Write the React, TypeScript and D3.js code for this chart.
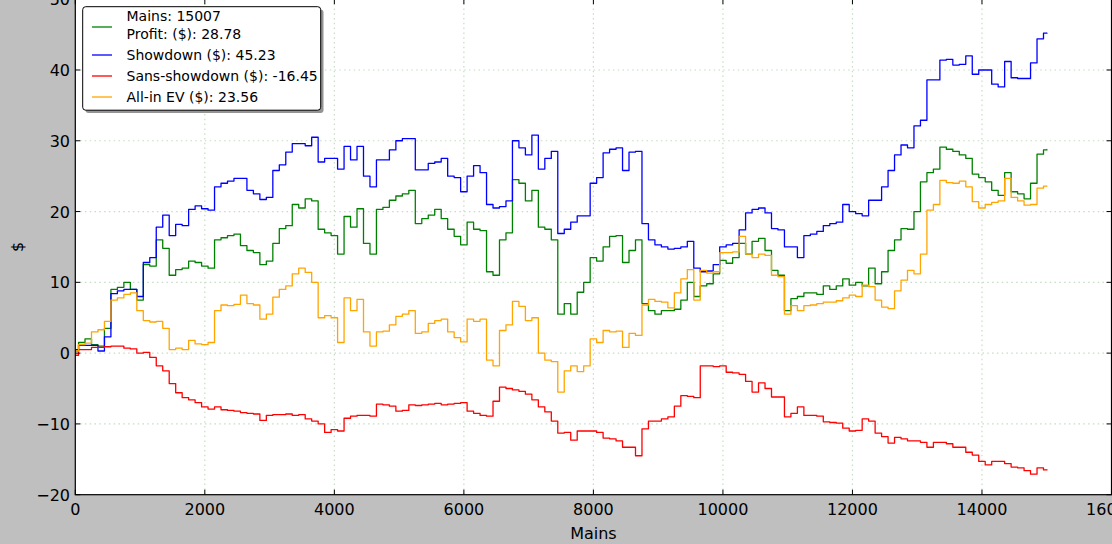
import * as d3 from 'd3'
import { useEffect, useRef } from 'react'

// hand count of the session, the last sample sits here
const TOTAL_HANDS = 15007

// values sampled every 100 hands (0 .. 15000), then the final value at 15007
const profit = [
  0.3, 1.5, 2.0, 1.2, 1.0, 3.5, 9.0, 9.3, 10.0, 9.0, 7.5, 12.5, 12.3, 16.0, 14.8, 11.0, 11.8, 12.0, 13.0, 12.8,
  12.3, 12.0, 16.0, 16.3, 16.6, 16.8, 15.2, 14.5, 14.2, 12.5, 13.0, 15.5, 17.6, 18.0, 21.0, 20.5, 21.8, 21.5, 17.5, 17.0,
  16.6, 14.0, 19.3, 17.8, 20.4, 15.5, 14.0, 20.3, 20.6, 21.6, 22.2, 22.5, 23.0, 18.3, 19.0, 19.5, 20.3, 19.0, 17.5, 16.5,
  15.3, 18.5, 17.5, 17.3, 11.5, 11.0, 16.0, 17.0, 24.5, 24.0, 21.5, 23.0, 17.8, 17.5, 16.0, 5.5, 7.0, 5.5, 8.6, 10.0,
  13.5, 13.0, 15.0, 16.5, 16.6, 12.8, 14.5, 16.0, 7.0, 6.0, 5.5, 6.0, 6.0, 6.2, 7.5, 10.0, 8.0, 9.5, 9.8, 11.2,
  13.1, 12.7, 13.5, 15.5, 14.0, 15.8, 16.2, 14.5, 11.7, 11.0, 6.0, 7.7, 8.0, 8.5, 8.5, 8.3, 9.5, 9.0, 9.5, 10.5,
  9.6, 10.0, 9.5, 12.0, 9.8, 11.5, 14.5, 16.0, 17.6, 17.5, 20.0, 24.2, 25.5, 26.0, 29.1, 28.8, 28.5, 28.0, 27.5, 25.3,
  24.8, 24.2, 23.0, 22.3, 25.5, 22.8, 22.5, 21.8, 24.0, 28.1, 28.7, 28.78,
]

const showdown = [
  0.5, 1.1, 1.1, 1.1, 0.3, 2.3, 8.4, 8.8, 9.0, 9.0, 8.0, 12.8, 13.5, 17.8, 19.5, 16.6, 18.2, 18.0, 20.3, 20.8,
  20.4, 20.2, 23.5, 24.0, 24.3, 24.7, 24.7, 23.0, 22.5, 21.7, 22.0, 25.8, 26.6, 28.4, 29.6, 29.6, 29.3, 30.5, 27.0, 27.5,
  27.5, 26.0, 29.2, 27.3, 29.2, 25.0, 23.5, 27.3, 27.3, 28.7, 30.0, 30.3, 30.3, 25.9, 25.9, 26.8, 27.0, 27.5, 25.0, 24.8,
  22.8, 25.0, 26.5, 25.5, 21.0, 20.5, 20.7, 21.5, 30.0, 29.0, 28.0, 30.8, 26.0, 27.5, 28.5, 16.9, 17.5, 18.5, 19.4, 19.4,
  24.0, 24.8, 28.3, 28.8, 29.0, 25.8, 28.4, 28.5, 18.3, 16.0, 15.3, 15.0, 14.7, 14.8, 15.0, 15.8, 12.0, 11.5, 11.6, 12.5,
  15.0, 15.3, 15.5, 17.4, 19.8, 20.3, 20.5, 19.8, 17.6, 17.4, 15.0, 15.0, 13.5, 16.6, 16.8, 17.2, 18.0, 18.3, 18.5, 21.0,
  20.0, 19.7, 19.4, 21.6, 21.6, 23.5, 25.8, 28.0, 29.4, 29.0, 32.1, 32.9, 38.6, 38.6, 41.4, 41.5, 40.7, 40.8, 42.0, 39.4,
  40.0, 40.0, 38.0, 37.6, 41.2, 38.9, 38.8, 38.8, 41.0, 44.4, 45.2, 45.23,
]

const sansShowdown = [
  -0.3, 0.5, 0.5, 0.8, 0.8, 0.9, 1.0, 1.0, 0.7, 0.6, 0.0, 0.1, -0.6, -1.8, -2.5, -4.3, -5.6, -6.3, -6.6, -7.0,
  -7.6, -7.9, -7.6, -8.0, -8.1, -8.2, -8.4, -8.5, -8.6, -9.5, -8.8, -8.7, -8.7, -8.6, -8.8, -8.7, -9.3, -9.6, -10.0, -11.2,
  -10.8, -11.0, -9.2, -8.9, -8.8, -8.8, -8.9, -7.2, -7.3, -7.5, -8.2, -8.1, -7.3, -7.4, -7.3, -7.2, -7.1, -7.3, -7.2, -7.1,
  -7.0, -8.2, -8.5, -8.8, -8.9, -6.8, -4.8, -5.0, -5.2, -5.4, -5.8, -6.6, -7.6, -8.3, -9.6, -11.3, -11.2, -12.3, -11.0, -11.0,
  -11.0, -11.2, -12.0, -12.1, -12.4, -13.3, -13.3, -14.5, -10.7, -9.6, -9.6, -9.3, -9.0, -7.5, -6.0, -6.1, -6.3, -1.8, -1.8, -1.9,
  -1.8, -2.7, -2.8, -3.0, -4.0, -5.5, -4.2, -5.0, -6.2, -6.2, -9.0, -8.5, -7.6, -8.8, -8.8, -8.9, -9.7, -9.8, -9.9, -10.6,
  -11.0, -10.9, -9.3, -9.6, -11.3, -11.8, -12.7, -11.9, -12.1, -12.4, -12.4, -12.6, -13.3, -12.6, -12.6, -12.8, -13.3, -13.3, -14.0, -14.4,
  -15.3, -15.8, -15.3, -15.3, -15.6, -16.1, -16.2, -16.6, -17.1, -16.2, -16.5, -16.45,
]

const allInEv = [
  0.3, 1.2, 1.4, 3.0, 3.3, 4.5, 7.5, 7.8, 8.3, 8.5, 6.0, 4.6, 4.4, 4.5, 3.5, 0.5, 0.7, 0.5, 1.8, 1.3,
  1.2, 1.5, 6.0, 6.8, 6.7, 6.9, 8.2, 7.0, 6.8, 4.8, 5.5, 7.9, 9.0, 9.5, 11.2, 12.0, 11.4, 10.0, 5.0, 5.3,
  5.0, 1.5, 7.8, 6.0, 7.6, 3.0, 1.0, 3.0, 3.1, 4.0, 5.2, 5.5, 6.0, 2.8, 3.0, 4.2, 4.6, 4.8, 3.0, 2.2,
  1.6, 4.8, 4.5, 4.8, -1.0, -1.8, 3.2, 4.0, 7.3, 6.6, 4.6, 5.0, 0.0, -1.0, -1.2, -5.5, -2.5, -1.8, -2.6, -1.8,
  2.0, 1.5, 3.2, 3.0, 3.1, 0.8, 2.8, 2.5, 6.8, 7.6, 7.3, 7.2, 6.4, 8.5, 10.5, 11.8, 7.5, 11.7, 11.3, 11.5,
  14.2, 14.2, 14.3, 16.5, 14.0, 13.5, 14.0, 13.8, 11.0, 10.8, 5.5, 6.7, 6.0, 6.7, 6.8, 7.0, 7.2, 7.2, 7.4, 7.8,
  8.2, 8.0, 9.6, 9.4, 7.5, 6.5, 6.3, 8.8, 10.3, 11.7, 11.2, 14.0, 20.2, 21.0, 24.4, 24.1, 24.0, 24.3, 23.5, 21.4,
  20.5, 21.0, 21.3, 21.5, 24.7, 22.0, 21.5, 20.9, 21.0, 23.3, 23.6, 23.56,
]

const xTicks = [0, 2000, 4000, 6000, 8000, 10000, 12000, 14000, 16000]
const yTicks = [-20, -10, 0, 10, 20, 30, 40, 50]

const legendLabels = [
  ['Mains: 15007', 'Profit: ($): 28.78'],
  ['Showdown ($): 45.23'],
  ['Sans-showdown ($): -16.45'],
  ['All-in EV ($): 23.56'],
]

const series = [
  { key: 'profit', values: profit, color: '#008000' },
  { key: 'showdown', values: showdown, color: '#0000ff' },
  { key: 'sans', values: sansShowdown, color: '#ff0000' },
  { key: 'allin', values: allInEv, color: '#ffa500' },
]

const WIDTH = 1112
const HEIGHT = 544
const FONT = '"DejaVu Sans", sans-serif'

const handAt = (i: number, n: number) => (i === n - 1 ? TOTAL_HANDS : i * 100)

const fmt = (v: number) => (v < 0 ? '\u2212' + Math.abs(v) : String(v))

const drawChart = (node: SVGSVGElement) => {
  const svg = d3.select(node)
  svg.selectAll('*').remove()

  const x = d3.scaleLinear().domain([0, 16000]).range([75.3, 1111.5])
  const y = d3.scaleLinear().domain([-20, 50]).range([494.7, -0.8])

  const [x0, x1] = x.range()
  const [y0, y1] = y.range()

  svg.append('rect').attr('width', WIDTH).attr('height', HEIGHT).attr('fill', '#bfbfbf')
  svg.append('rect')
    .attr('x', x0).attr('y', y1)
    .attr('width', x1 - x0).attr('height', y0 - y1)
    .attr('fill', '#ffffff')

  // dotted grid
  const grid = svg.append('g')
    .attr('stroke', '#c6dcc6')
    .attr('stroke-width', 1.2)
    .attr('stroke-dasharray', '1.5,3.3')
  grid.selectAll('line.gx')
    .data(xTicks.slice(1, -1))
    .join('line')
    .attr('class', 'gx')
    .attr('x1', d => x(d)).attr('x2', d => x(d))
    .attr('y1', y0).attr('y2', y1)
  grid.selectAll('line.gy')
    .data(yTicks.slice(1, -1))
    .join('line')
    .attr('class', 'gy')
    .attr('x1', x0).attr('x2', x1)
    .attr('y1', d => y(d)).attr('y2', d => y(d))

  const line = d3.line<number>()
    .x((d, i, arr) => x(handAt(i, arr.length)))
    .y(d => y(d))
    .curve(d3.curveStep)

  svg.append('g')
    .selectAll('path')
    .data(series)
    .join('path')
    .attr('d', d => line(d.values))
    .attr('fill', 'none')
    .attr('stroke', d => d.color)
    .attr('stroke-width', 1.3)
    .attr('stroke-linejoin', 'round')

  // frame and inside ticks
  svg.append('rect')
    .attr('x', x0).attr('y', y1)
    .attr('width', x1 - x0).attr('height', y0 - y1)
    .attr('fill', 'none')
    .attr('stroke', '#000')
    .attr('stroke-width', 1.2)

  const ticks = svg.append('g').attr('stroke', '#000').attr('stroke-width', 1)
  xTicks.forEach(t => {
    ticks.append('line').attr('x1', x(t)).attr('x2', x(t)).attr('y1', y0).attr('y2', y0 - 5)
    ticks.append('line').attr('x1', x(t)).attr('x2', x(t)).attr('y1', y1).attr('y2', y1 + 5)
  })
  yTicks.forEach(t => {
    ticks.append('line').attr('x1', x0).attr('x2', x0 + 5).attr('y1', y(t)).attr('y2', y(t))
    ticks.append('line').attr('x1', x1).attr('x2', x1 - 5).attr('y1', y(t)).attr('y2', y(t))
  })

  svg.append('g')
    .selectAll('text')
    .data(xTicks)
    .join('text')
    .attr('x', d => x(d))
    .attr('y', 515)
    .attr('text-anchor', 'middle')
    .attr('font-family', FONT)
    .attr('font-size', 16)
    .text(d => String(d))

  svg.append('g')
    .selectAll('text')
    .data(yTicks)
    .join('text')
    .attr('x', 70)
    .attr('y', d => y(d) + 6)
    .attr('text-anchor', 'end')
    .attr('font-family', FONT)
    .attr('font-size', 16)
    .text(d => fmt(d))

  svg.append('text')
    .attr('x', (x0 + x1) / 2)
    .attr('y', 539)
    .attr('text-anchor', 'middle')
    .attr('font-family', FONT)
    .attr('font-size', 16)
    .text('Mains')

  svg.append('text')
    .attr('transform', `translate(23,${(y0 + y1) / 2}) rotate(-90)`)
    .attr('text-anchor', 'middle')
    .attr('font-family', FONT)
    .attr('font-size', 16)
    .text('$')

  // legend
  const lg = svg.append('g')
  lg.append('rect')
    .attr('x', 85.5).attr('y', 9.5)
    .attr('width', 238).attr('height', 103.5)
    .attr('rx', 3)
    .attr('fill', '#4d4d4d')
    .attr('opacity', 0.6)
  lg.append('rect')
    .attr('x', 82.7).attr('y', 6.7)
    .attr('width', 238).attr('height', 103.5)
    .attr('rx', 3)
    .attr('fill', '#fff')
    .attr('stroke', '#000')
    .attr('stroke-width', 1)

  const sampleY = [27, 55, 76, 97]
  const baselines = [[21, 38.5], [60], [81], [102]]
  series.forEach((s, i) => {
    lg.append('line')
      .attr('x1', 92).attr('x2', 112)
      .attr('y1', sampleY[i]).attr('y2', sampleY[i])
      .attr('stroke', s.color)
      .attr('stroke-width', 1.3)
    legendLabels[i].forEach((txt, j) => {
      lg.append('text')
        .attr('x', 126.5)
        .attr('y', baselines[i][j])
        .attr('font-family', FONT)
        .attr('font-size', 14)
        .text(txt)
    })
  })
}

export default function App() {
  const ref = useRef<SVGSVGElement>(null)

  useEffect(() => {
    document.body.style.margin = '0'
    if (ref.current) drawChart(ref.current)
  }, [])

  return (
    <svg
      ref={ref}
      width={WIDTH}
      height={HEIGHT}
      style={{ position: 'absolute', left: 0, top: 0, display: 'block' }}
    />
  )
}
